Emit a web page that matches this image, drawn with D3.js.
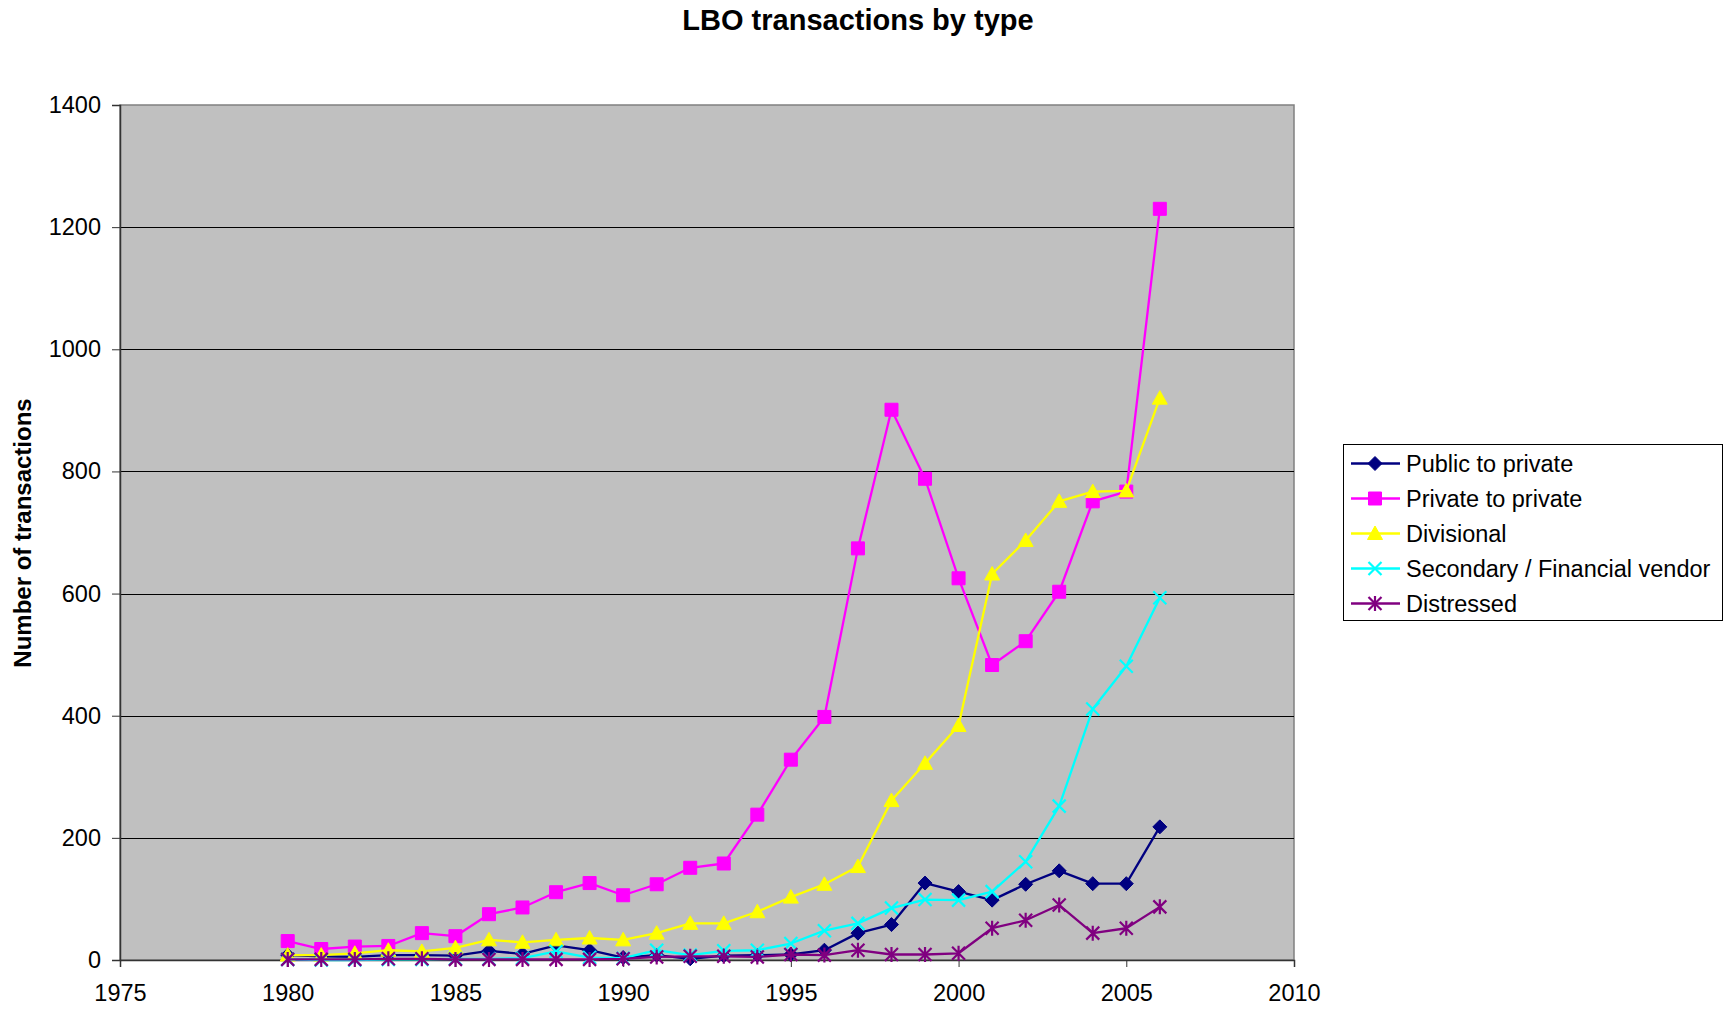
<!DOCTYPE html>
<html>
<head>
<meta charset="utf-8">
<script src="https://cdn.jsdelivr.net/npm/d3@7"></script>
<style>
  html, body { margin: 0; padding: 0; background: #fff; }
  svg { display: block; font-family: Arial, "Liberation Sans", sans-serif; }
</style>
</head>
<body>
<svg id="chart" width="1724" height="1011"></svg>
<script>
// LBO transactions per year, by deal type
const years = [1980, 1981, 1982, 1983, 1984, 1985, 1986, 1987, 1988, 1989, 1990, 1991, 1992, 1993,
               1994, 1995, 1996, 1997, 1998, 1999, 2000, 2001, 2002, 2003, 2004, 2005, 2006];
const publicToPrivate = [8, 6, 5, 8, 8, 7, 15, 10, 24, 16, 4, 8, 2, 7, 8, 9, 16, 44, 58, 126, 112, 98, 124, 146, 125, 125, 218];
const privateToPrivate = [31, 18, 22, 23, 44, 39, 75, 86, 111, 126, 106, 124, 151, 158, 238, 328, 398, 674, 901, 788, 625, 483, 522, 603, 751, 767, 1230];
const divisional = [8, 8, 11, 16, 14, 20, 33, 29, 33, 36, 33, 44, 60, 60, 79, 103, 124, 153, 261, 322, 384, 632, 687, 751, 767, 768, 920];
const secondary = [1, 0, 0, 1, 1, 2, 2, 3, 14, 4, 3, 16, 8, 15, 16, 27, 48, 60, 85, 99, 98, 112, 161, 252, 411, 481, 593];
const distressed = [1, 1, 1, 2, 2, 1, 1, 1, 1, 1, 2, 5, 6, 6, 5, 9, 8, 16, 9, 9, 11, 52, 65, 90, 44, 52, 87];

const seriesNames = ["Public to private", "Private to private", "Divisional", "Secondary / Financial vendor", "Distressed"];
const seriesValues = [publicToPrivate, privateToPrivate, divisional, secondary, distressed];
const seriesColors = ["#000080", "#FF00FF", "#FFFF00", "#00FFFF", "#800080"];
const seriesMarkers = ["diamond", "square", "triangle", "cross", "star"];

const xTicks = [1975, 1980, 1985, 1990, 1995, 2000, 2005, 2010];
const yTicks = [0, 200, 400, 600, 800, 1000, 1200, 1400];

const svg = d3.select("#chart");
const plot = { left: 120, top: 105, right: 1294, bottom: 960 };
const labelSize = 23.5;

const x = d3.scaleLinear().domain([1975, 2010]).range([plot.left, plot.right]);
const y = d3.scaleLinear().domain([0, 1400]).range([plot.bottom, plot.top]);

// marker shapes, centred on the origin
function markerPath(kind) {
  const p = d3.path();
  if (kind === "diamond") {
    const r = 7;
    p.moveTo(0, -r); p.lineTo(r, 0); p.lineTo(0, r); p.lineTo(-r, 0); p.closePath();
  } else if (kind === "square") {
    const r = 6.5;
    p.rect(-r, -r, 2 * r, 2 * r);
  } else if (kind === "triangle") {
    const r = 7.5;
    p.moveTo(0, -7.5); p.lineTo(r, 6); p.lineTo(-r, 6); p.closePath();
  } else if (kind === "cross") {
    const r = 6.5;
    p.moveTo(-r, -r); p.lineTo(r, r); p.moveTo(r, -r); p.lineTo(-r, r);
  } else if (kind === "star") {
    const r = 6.5;
    p.moveTo(-r, -r); p.lineTo(r, r); p.moveTo(r, -r); p.lineTo(-r, r);
    p.moveTo(0, -r - 1); p.lineTo(0, r + 1);
  }
  return p.toString();
}

// plot area background
svg.append("rect")
  .attr("x", plot.left).attr("y", plot.top)
  .attr("width", plot.right - plot.left).attr("height", plot.bottom - plot.top)
  .attr("fill", "#C0C0C0").attr("stroke", "#808080").attr("stroke-width", 1.5);

// horizontal gridlines
svg.append("g")
  .selectAll("line")
  .data(yTicks.filter(d => d > 0 && d < 1400))
  .join("line")
  .attr("x1", plot.left).attr("x2", plot.right)
  .attr("y1", d => Math.round(y(d)) + 0.5).attr("y2", d => Math.round(y(d)) + 0.5)
  .attr("stroke", "#000").attr("stroke-width", 1);

// axes
const yAxis = d3.axisLeft(y).tickValues(yTicks).tickSize(8).tickPadding(11).tickFormat(d3.format("d"));
const gy = svg.append("g").attr("transform", `translate(${plot.left},0)`).call(yAxis);
gy.select(".domain").attr("stroke", "#333").attr("stroke-width", 1.5);
gy.selectAll(".tick line").attr("stroke", "#333");
gy.selectAll(".tick text").attr("font-size", labelSize).attr("fill", "#000")
  .attr("font-family", "Arial, 'Liberation Sans', sans-serif");

const xAxis = d3.axisBottom(x).tickValues(xTicks).tickSize(7).tickPadding(17).tickFormat(d3.format("d"));
const gx = svg.append("g").attr("transform", `translate(0,${plot.bottom})`).call(xAxis);
gx.select(".domain").attr("stroke", "#333").attr("stroke-width", 1.5);
gx.selectAll(".tick line").attr("stroke", "#333");
gx.selectAll(".tick text").attr("font-size", labelSize).attr("fill", "#000")
  .attr("font-family", "Arial, 'Liberation Sans', sans-serif");

// series lines and markers
const line = d3.line().x((d, i) => x(years[i])).y(d => y(d));
seriesValues.forEach((vals, s) => {
  const g = svg.append("g");
  g.append("path")
    .attr("d", line(vals))
    .attr("fill", "none")
    .attr("stroke", seriesColors[s])
    .attr("stroke-width", 2.3)
    .attr("stroke-linejoin", "round");
  const isOpen = seriesMarkers[s] === "cross" || seriesMarkers[s] === "star";
  g.selectAll("path.marker")
    .data(vals)
    .join("path")
    .attr("class", "marker")
    .attr("transform", (d, i) => `translate(${x(years[i])},${y(d)})`)
    .attr("d", markerPath(seriesMarkers[s]))
    .attr("fill", isOpen ? "none" : seriesColors[s])
    .attr("stroke", seriesColors[s])
    .attr("stroke-width", isOpen ? 2.2 : 1);
});

// title
svg.append("text")
  .attr("x", 858).attr("y", 30)
  .attr("text-anchor", "middle")
  .attr("font-size", 29).attr("font-weight", "bold")
  .text("LBO transactions by type");

// y axis title
svg.append("text")
  .attr("transform", `translate(31,533) rotate(-90)`)
  .attr("text-anchor", "middle")
  .attr("font-size", 24).attr("font-weight", "bold")
  .text("Number of transactions");

// legend
const legend = svg.append("g").attr("transform", "translate(1343,444)");
legend.append("rect")
  .attr("x", 0.5).attr("y", 0.5).attr("width", 379).attr("height", 176)
  .attr("fill", "#fff").attr("stroke", "#000").attr("stroke-width", 1);
seriesNames.forEach((name, s) => {
  const cy = 19.5 + s * 35;
  const row = legend.append("g").attr("transform", `translate(0,${cy})`);
  row.append("line").attr("x1", 8).attr("x2", 57).attr("y1", 0).attr("y2", 0)
    .attr("stroke", seriesColors[s]).attr("stroke-width", 2.3);
  const isOpen = seriesMarkers[s] === "cross" || seriesMarkers[s] === "star";
  row.append("path")
    .attr("transform", "translate(32,0)")
    .attr("d", markerPath(seriesMarkers[s]))
    .attr("fill", isOpen ? "none" : seriesColors[s])
    .attr("stroke", seriesColors[s])
    .attr("stroke-width", isOpen ? 2.2 : 1);
  row.append("text")
    .attr("x", 63).attr("y", 8)
    .attr("font-size", labelSize)
    .text(name);
});
</script>
</body>
</html>
